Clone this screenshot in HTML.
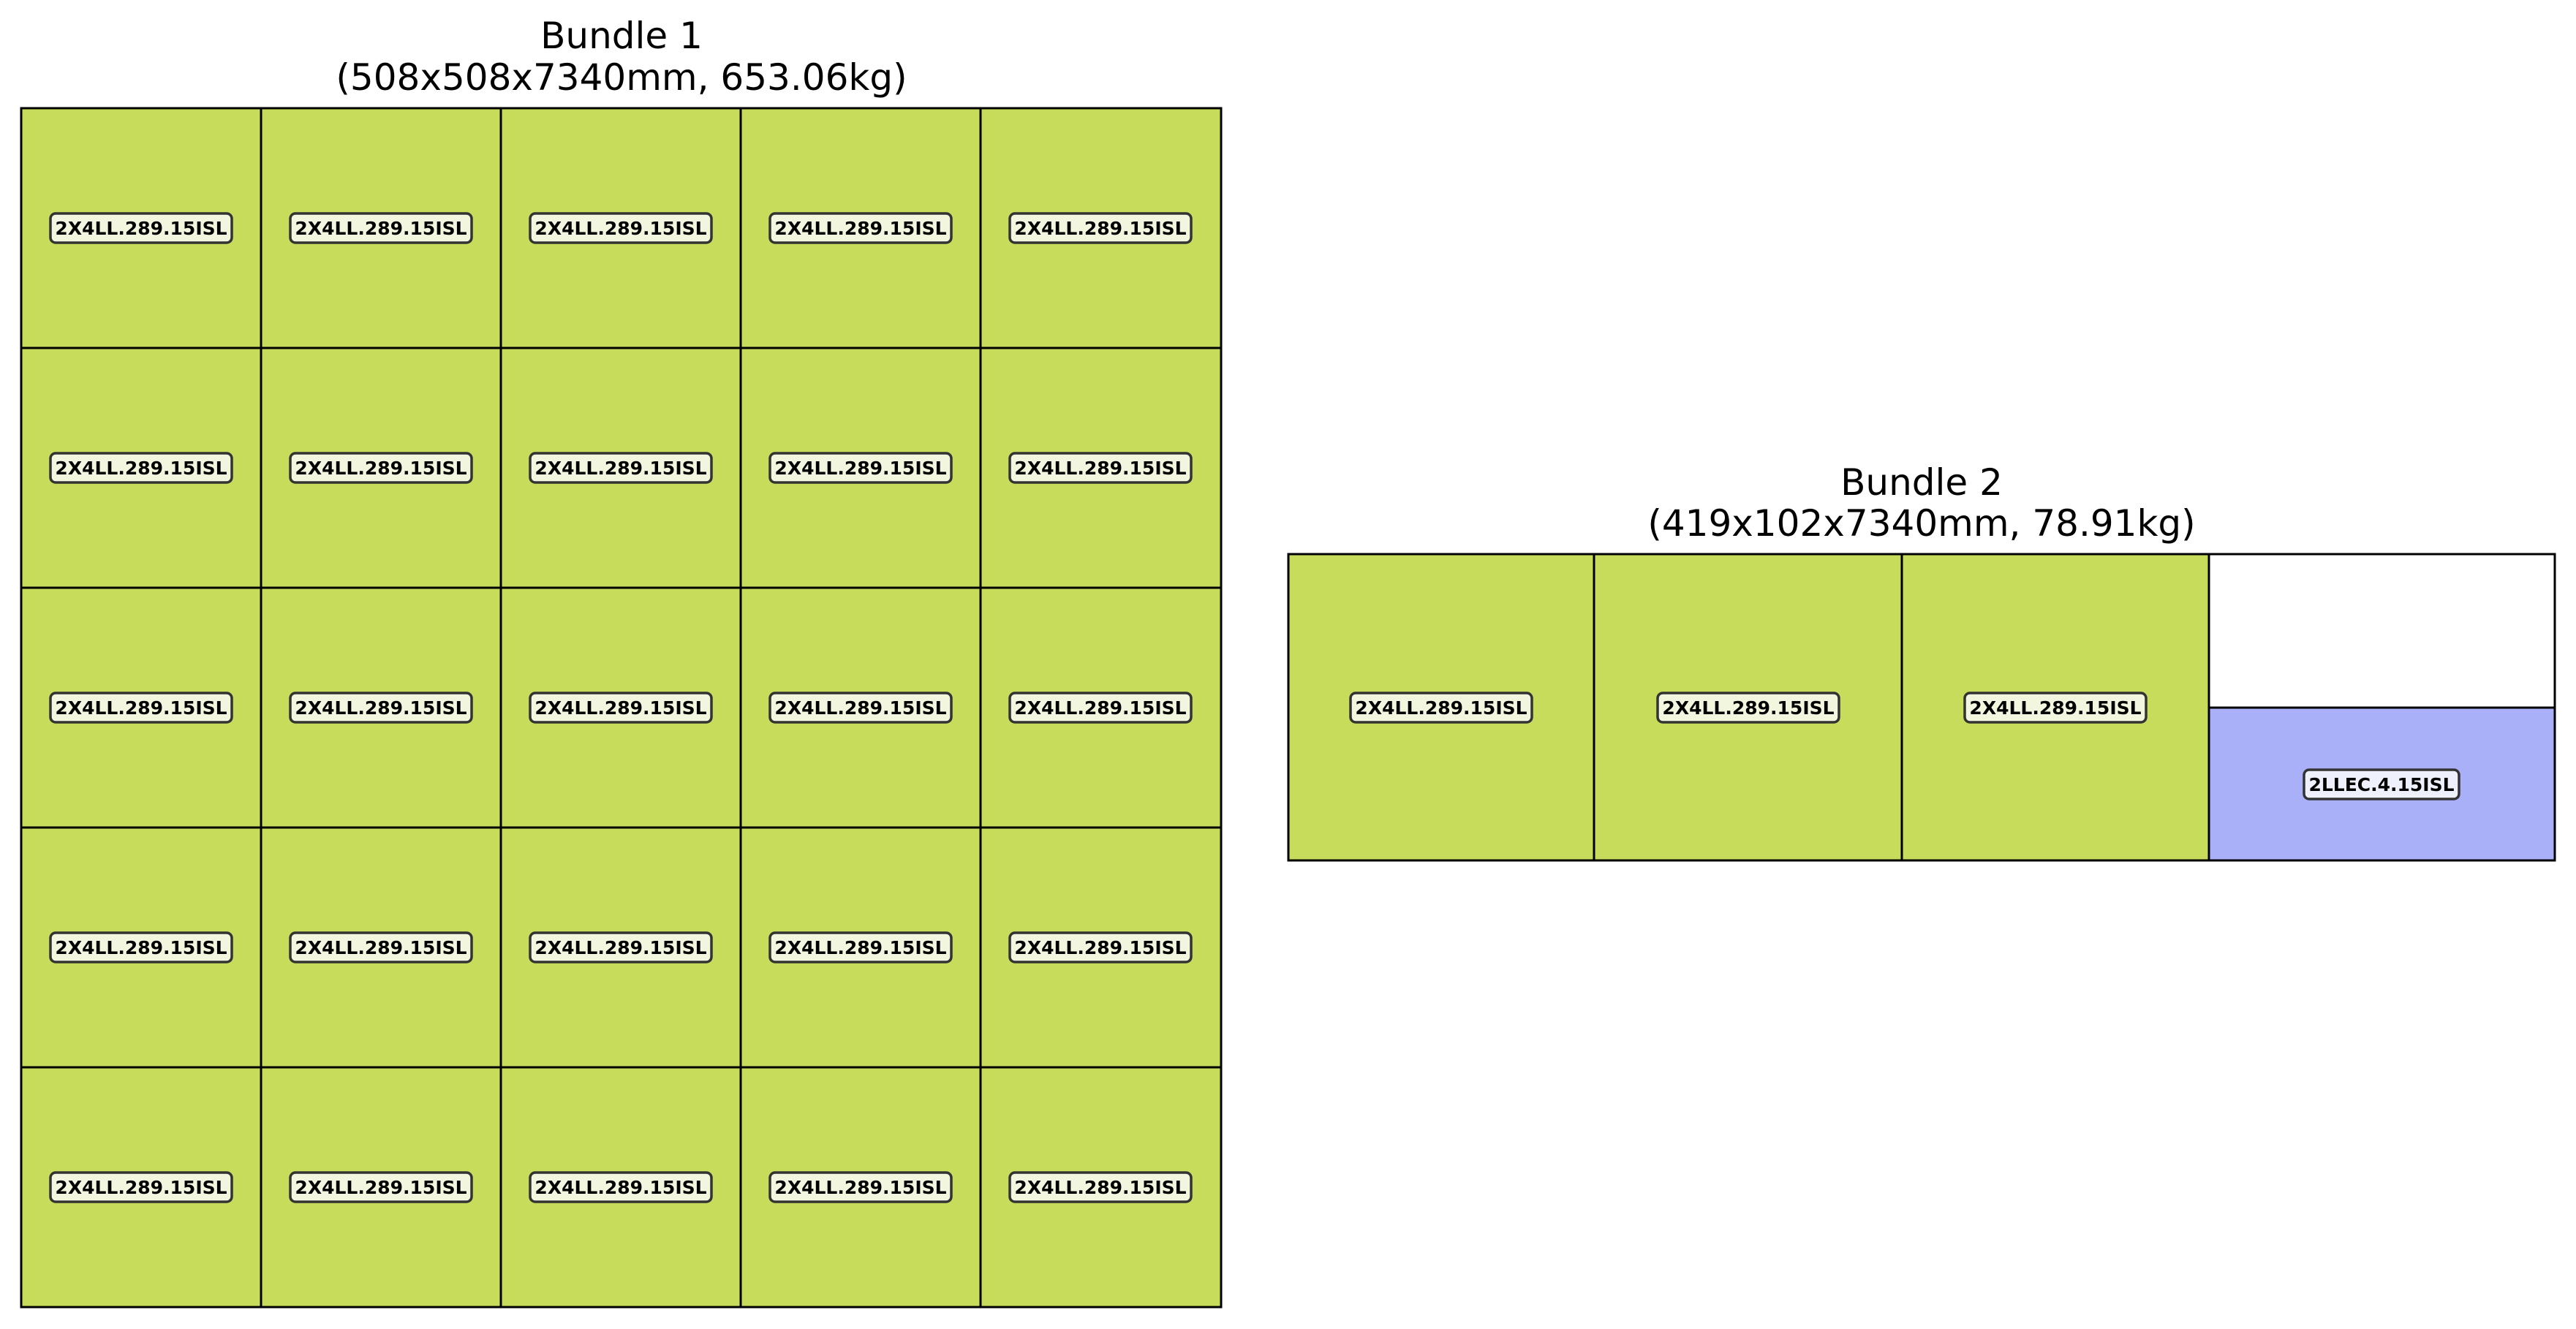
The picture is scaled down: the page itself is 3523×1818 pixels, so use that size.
<!DOCTYPE html>
<html><head><meta charset="utf-8"><style>
html,body{margin:0;padding:0;background:#fff;}
svg{display:block;}
.t{font-family:"DejaVu Sans","Liberation Sans",sans-serif;font-size:50px;fill:#000;}
.l{font-family:"DejaVu Sans","Liberation Sans",sans-serif;font-size:25px;font-weight:bold;fill:#000;}
</style></head><body>
<svg width="3523" height="1818" viewBox="0 0 3523 1818" xmlns="http://www.w3.org/2000/svg">
<rect width="3523" height="1818" fill="#fff"/>
<text class="t" x="850" y="66" text-anchor="middle">Bundle 1</text>
<text class="t" x="850" y="123" text-anchor="middle">(508x508x7340mm, 653.06kg)</text>
<text class="t" x="2628" y="677" text-anchor="middle">Bundle 2</text>
<text class="t" x="2628" y="733" text-anchor="middle">(419x102x7340mm, 78.91kg)</text>
<rect x="29" y="148" width="1641" height="1640" fill="#c7dc5a" stroke="#000" stroke-width="3"/>
<g stroke="#000" stroke-width="3">
<line x1="357" y1="148" x2="357" y2="1788"/>
<line x1="685" y1="148" x2="685" y2="1788"/>
<line x1="1013" y1="148" x2="1013" y2="1788"/>
<line x1="1341" y1="148" x2="1341" y2="1788"/>
<line x1="29" y1="476" x2="1670" y2="476"/>
<line x1="29" y1="804" x2="1670" y2="804"/>
<line x1="29" y1="1132" x2="1670" y2="1132"/>
<line x1="29" y1="1460" x2="1670" y2="1460"/>
</g>
<rect x="1762" y="758" width="1732" height="419" fill="#c7dc5a" stroke="#000" stroke-width="3"/>
<rect x="3021" y="758" width="473" height="210" fill="#fff" stroke="#000" stroke-width="3"/>
<rect x="3021" y="968" width="473" height="209" fill="#aab0f8" stroke="#000" stroke-width="3"/>
<line x1="2180" y1="758" x2="2180" y2="1177" stroke="#000" stroke-width="3"/>
<line x1="2601" y1="758" x2="2601" y2="1177" stroke="#000" stroke-width="3"/>
<g stroke="#333" stroke-width="3.5" fill="#f2f6df">
<rect x="1847" y="948" width="248" height="40" rx="7"/>
<rect x="2267" y="948" width="248" height="40" rx="7"/>
<rect x="2687" y="948" width="248" height="40" rx="7"/>
</g>
<rect x="3151" y="1053" width="212" height="40" rx="7" fill="#eef0fb" stroke="#333" stroke-width="3.5"/>
<text class="l" x="1971" y="977" text-anchor="middle">2X4LL.289.15ISL</text>
<text class="l" x="2391" y="977" text-anchor="middle">2X4LL.289.15ISL</text>
<text class="l" x="2811" y="977" text-anchor="middle">2X4LL.289.15ISL</text>
<text class="l" x="3257" y="1082" text-anchor="middle">2LLEC.4.15ISL</text>
<g stroke="#333" stroke-width="3.5" fill="#f2f6df">
<rect x="69" y="292" width="248" height="40" rx="7"/><rect x="397" y="292" width="248" height="40" rx="7"/><rect x="725" y="292" width="248" height="40" rx="7"/><rect x="1053" y="292" width="248" height="40" rx="7"/><rect x="1381" y="292" width="248" height="40" rx="7"/>
<rect x="69" y="620" width="248" height="40" rx="7"/><rect x="397" y="620" width="248" height="40" rx="7"/><rect x="725" y="620" width="248" height="40" rx="7"/><rect x="1053" y="620" width="248" height="40" rx="7"/><rect x="1381" y="620" width="248" height="40" rx="7"/>
<rect x="69" y="948" width="248" height="40" rx="7"/><rect x="397" y="948" width="248" height="40" rx="7"/><rect x="725" y="948" width="248" height="40" rx="7"/><rect x="1053" y="948" width="248" height="40" rx="7"/><rect x="1381" y="948" width="248" height="40" rx="7"/>
<rect x="69" y="1276" width="248" height="40" rx="7"/><rect x="397" y="1276" width="248" height="40" rx="7"/><rect x="725" y="1276" width="248" height="40" rx="7"/><rect x="1053" y="1276" width="248" height="40" rx="7"/><rect x="1381" y="1276" width="248" height="40" rx="7"/>
<rect x="69" y="1604" width="248" height="40" rx="7"/><rect x="397" y="1604" width="248" height="40" rx="7"/><rect x="725" y="1604" width="248" height="40" rx="7"/><rect x="1053" y="1604" width="248" height="40" rx="7"/><rect x="1381" y="1604" width="248" height="40" rx="7"/>
</g>
<g text-anchor="middle">
<text class="l" x="193" y="321">2X4LL.289.15ISL</text><text class="l" x="521" y="321">2X4LL.289.15ISL</text><text class="l" x="849" y="321">2X4LL.289.15ISL</text><text class="l" x="1177" y="321">2X4LL.289.15ISL</text><text class="l" x="1505" y="321">2X4LL.289.15ISL</text>
<text class="l" x="193" y="649">2X4LL.289.15ISL</text><text class="l" x="521" y="649">2X4LL.289.15ISL</text><text class="l" x="849" y="649">2X4LL.289.15ISL</text><text class="l" x="1177" y="649">2X4LL.289.15ISL</text><text class="l" x="1505" y="649">2X4LL.289.15ISL</text>
<text class="l" x="193" y="977">2X4LL.289.15ISL</text><text class="l" x="521" y="977">2X4LL.289.15ISL</text><text class="l" x="849" y="977">2X4LL.289.15ISL</text><text class="l" x="1177" y="977">2X4LL.289.15ISL</text><text class="l" x="1505" y="977">2X4LL.289.15ISL</text>
<text class="l" x="193" y="1305">2X4LL.289.15ISL</text><text class="l" x="521" y="1305">2X4LL.289.15ISL</text><text class="l" x="849" y="1305">2X4LL.289.15ISL</text><text class="l" x="1177" y="1305">2X4LL.289.15ISL</text><text class="l" x="1505" y="1305">2X4LL.289.15ISL</text>
<text class="l" x="193" y="1633">2X4LL.289.15ISL</text><text class="l" x="521" y="1633">2X4LL.289.15ISL</text><text class="l" x="849" y="1633">2X4LL.289.15ISL</text><text class="l" x="1177" y="1633">2X4LL.289.15ISL</text><text class="l" x="1505" y="1633">2X4LL.289.15ISL</text>
</g>
</svg>
</body></html>
